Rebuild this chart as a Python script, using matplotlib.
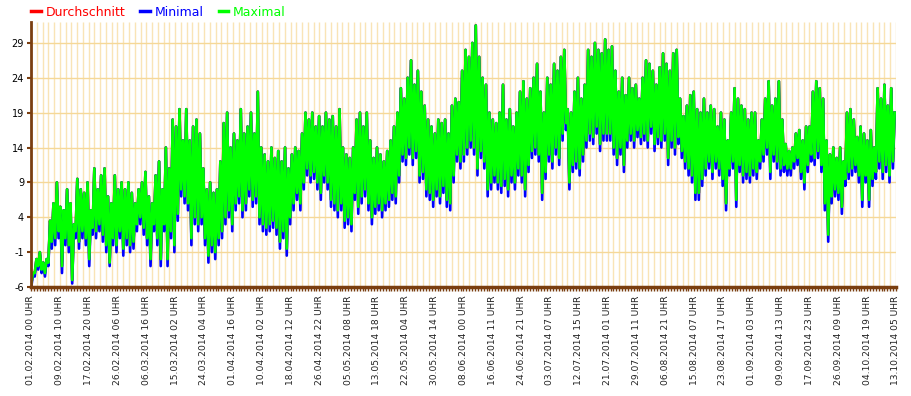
import numpy as np
import matplotlib.pyplot as plt

tick_labels = [
    "01.02.2014 00 UHR", "09.02.2014 10 UHR", "17.02.2014 20 UHR", "26.02.2014 06 UHR",
    "06.03.2014 16 UHR", "15.03.2014 02 UHR", "24.03.2014 04 UHR", "01.04.2014 16 UHR",
    "10.04.2014 02 UHR", "18.04.2014 12 UHR", "26.04.2014 22 UHR", "05.05.2014 08 UHR",
    "13.05.2014 18 UHR", "22.05.2014 04 UHR", "30.05.2014 14 UHR", "08.06.2014 00 UHR",
    "16.06.2014 11 UHR", "24.06.2014 21 UHR", "03.07.2014 07 UHR", "12.07.2014 15 UHR",
    "21.07.2014 01 UHR", "29.07.2014 11 UHR", "06.08.2014 21 UHR", "15.08.2014 07 UHR",
    "23.08.2014 17 UHR", "01.09.2014 03 UHR", "09.09.2014 13 UHR", "17.09.2014 23 UHR",
    "26.09.2014 09 UHR", "04.10.2014 19 UHR", "13.10.2014 05 UHR",
]
y_ticks = [-6, -1, 4, 9, 14, 19, 24, 29]

# daily highs of "Maximal"
max_hi = [
    -4, -2, -1, -2.5, -2, 3.5, 6, 9, 5.5, 5,
    8, 6, 3, 9.5, 8, 7.5, 9, 5, 11, 8,
    10, 11, 7, 6, 10, 8, 9, 8, 9, 7.5,
    6, 8, 9, 10.5, 7, 6, 10, 12, 8, 14,
    11, 18, 17, 19.5, 15, 19.5, 15, 17, 18, 16,
    11, 8, 9, 7.5, 8, 12, 17.5, 19, 14, 16,
    15, 19.5, 16, 17, 19, 16, 22, 14, 13, 12,
    14, 12.5, 13.5, 12, 14, 11, 13, 14, 13.5, 16,
    19, 18, 19, 17, 18.5, 17, 19, 18, 18.5, 17,
    19.5, 14, 13, 12.5, 14, 18, 19, 17, 19, 15,
    12.5, 14, 13, 12, 13.5, 15, 17, 19, 22.5, 21,
    24, 26.5, 23, 25, 22, 20, 18, 17, 16, 18,
    17.5, 18, 16, 20, 21, 20.5, 25, 28, 27, 29,
    31.5, 27, 24, 23, 19, 18, 17.5, 19, 23, 18,
    19.5, 17, 19, 22, 23.5, 21, 22.5, 24, 26, 22,
    19, 24, 23, 26, 25, 27, 28, 19.5, 19, 22,
    24, 21, 23, 28, 27, 29, 28, 27.5, 29.5, 28,
    28.5, 25, 22, 24, 21.5, 24, 22.5, 23, 21, 24,
    26.5, 26, 25, 23, 25.5, 27.5, 26, 25, 27.5, 28,
    21, 18.5, 20, 21.5, 22, 19.5, 19, 21, 19, 20,
    19.5, 17, 19, 18, 15, 19, 22.5, 21, 20, 19.5,
    18, 19, 19, 15, 18, 21, 23.5, 20, 21, 23.5,
    18, 14.5, 13.5, 14, 16, 16.5, 15, 17, 17, 22,
    23.5, 22.5, 21, 15, 13, 14, 12.5, 14, 12, 19,
    19.5, 18, 15.5, 17, 16, 15, 16.5, 14, 22.5, 21,
    23, 20, 22.5, 19,
]

# daily lows of "Maximal"
max_lo = [
    -5.5, -4, -3, -3.5, -4, -2.5, 0.5, 1, 2, -3,
    1, 0, -5, 2, 0.5, 2, 1, -2, 2.5, 2,
    3, 1.5, 0, -2.5, 1, 0, 2, -0.5, 1, 0,
    0.5, 3, 4, 2.5, 1, -2, 3, 1, -2, 3,
    -2, 2, 0, 4.5, 8, 7, 6, 1, 4, 3,
    4, 1, -1.5, 0, -1, 1, 2, 4, 5, 3,
    6, 7, 5, 6, 8, 6.5, 7, 4, 3, 2.5,
    3, 3.5, 2.5, 0.5, 2, -0.5, 4, 6, 7.5, 6,
    9, 11, 10, 10.5, 9, 7.5, 10, 9, 6.5, 6,
    5, 6, 3.5, 4, 3, 7.5, 5.5, 7, 8, 6,
    4, 5.5, 6, 5, 6, 6.5, 7.5, 7, 10, 13,
    12.5, 14, 12.5, 13.5, 10, 10.5, 8, 7.5, 6.5, 8,
    7, 8.5, 6.5, 6, 10, 13, 12, 13, 14, 15,
    14, 11, 13.5, 12, 8, 9, 10, 9, 8.5, 9.5,
    8, 10, 9, 11, 10, 8, 11.5, 13.5, 14, 13,
    7.5, 10.5, 13, 12, 14, 12.5, 16, 17.5, 9, 11.5,
    12, 11, 13, 15, 16, 15.5, 17, 14.5, 16, 16,
    16, 14, 12.5, 14, 11.5, 15, 16, 15, 16.5, 15.5,
    16, 15, 17, 14.5, 15.5, 15, 16, 12.5, 15, 14,
    15.5, 13.5, 12, 11, 10, 7.5, 7.5, 9.5, 11, 12,
    10.5, 12, 11, 9.5, 6, 11, 12, 6.5, 11.5, 10,
    10.5, 10, 11, 10.5, 12, 13, 14, 10.5, 13, 12,
    11, 11.5, 11, 11, 12, 12.5, 10.5, 9, 11.5, 13,
    12.5, 13.5, 11.5, 6, 1.5, 7, 8, 7.5, 5.5, 9.5,
    10.5, 11, 11.5, 10, 6.5, 10, 6.5, 9.5, 10.5, 12,
    10.5, 11.5, 10, 12,
]

# daily lows of "Minimal"
min_lo = [
    -6, -4.5, -3.5, -4, -4.5, -3, -0.5, 0, 1, -4,
    0, -1, -5.5, 1, -0.5, 1, 0, -3, 1.5, 1,
    2, 0.5, -1, -3, 0, -1, 1, -1.5, 0, -1,
    -0.5, 2, 3, 1.5, 0, -3, 2, 0, -3, 2,
    -3, 1, -1, 3.5, 7, 6, 5, 0, 3, 2,
    3, 0, -2.5, -1, -2, 0, 1, 3, 4, 2,
    5, 6, 4, 5, 7, 5.5, 6, 3, 2, 1.5,
    2, 2.5, 1.5, -0.5, 1, -1.5, 3, 5, 6.5, 5,
    8, 10, 9, 9.5, 8, 6.5, 9, 8, 5.5, 5,
    4, 5, 2.5, 3, 2, 6.5, 4.5, 6, 7, 5,
    3, 4.5, 5, 4, 5, 5.5, 6.5, 6, 9, 12,
    11.5, 13, 11.5, 12.5, 9, 9.5, 7, 6.5, 5.5, 7,
    6, 7.5, 5.5, 5, 9, 12, 11, 12, 13, 14,
    13, 10, 12.5, 11, 7, 8, 9, 8, 7.5, 8.5,
    7, 9, 8, 10, 9, 7, 10.5, 12.5, 13, 12,
    6.5, 9.5, 12, 11, 13, 11.5, 15, 16.5, 8, 10.5,
    11, 10, 12, 14, 15, 14.5, 16, 13.5, 15, 15,
    15, 13, 11.5, 13, 10.5, 14, 15, 14, 15.5, 14.5,
    15, 14, 16, 13.5, 14.5, 14, 15, 11.5, 14, 13,
    14.5, 12.5, 11, 10, 9, 6.5, 6.5, 8.5, 10, 11,
    9.5, 11, 10, 8.5, 5, 10, 11, 5.5, 10.5, 9,
    9.5, 9, 10, 9.5, 11, 12, 13, 9.5, 12, 11,
    10, 10.5, 10, 10, 11, 11.5, 9.5, 8, 10.5, 12,
    11.5, 12.5, 10.5, 5, 0.5, 6, 7, 6.5, 4.5, 8.5,
    9.5, 10, 10.5, 9, 5.5, 9, 5.5, 8.5, 9.5, 11,
    9.5, 10.5, 9, 11,
]


def zigzag(lows, highs):
    n = len(lows)
    x = np.empty(2 * n)
    y = np.empty(2 * n)
    x[0::2] = np.arange(n) + 0.1
    x[1::2] = np.arange(n) + 0.6
    y[0::2] = lows
    y[1::2] = highs
    return x, y


brown = "#7a3e10"
n_days = len(max_hi)

fig = plt.figure(figsize=(9.12, 3.96), dpi=100)
ax = fig.add_axes([31 / 912, 1 - 287 / 396, 865 / 912, 265 / 396])

x, y = zigzag(max_lo, max_hi)
ax.plot(x, y, color="#ff0000", lw=1.9, label="Durchschnitt")
x, y = zigzag(min_lo, max_hi)
ax.plot(x, y, color="#0000ff", lw=1.9, label="Minimal")
x, y = zigzag(max_lo, max_hi)
ax.plot(x, y, color="#00ff00", lw=1.9, label="Maximal")

ax.set_xlim(0, n_days)
ax.set_ylim(-6, 32)

n_int = len(tick_labels) - 1
major = np.linspace(0, n_days, len(tick_labels))
comb = np.linspace(0, n_days, n_int * 10 + 1)
grid_x = np.linspace(0, n_days, n_int * 5 + 1)
ax.set_xticks(major)
ax.set_xticklabels(tick_labels, rotation=90, fontsize=6.6, color="#222222")
ax.set_xticks(comb, minor=True)
ax.set_yticks(y_ticks)
ax.set_yticklabels([str(v) for v in y_ticks], fontsize=7, color="black")

ax.vlines(grid_x, 0, 1, transform=ax.get_xaxis_transform(), color="#f9e4b6", lw=1, zorder=0)
ax.grid(which="major", axis="y", color="#f5d898", lw=1, zorder=0)
ax.set_axisbelow(True)

for side in ["top", "right"]:
    ax.spines[side].set_visible(False)
ax.spines["left"].set_color(brown)
ax.spines["left"].set_linewidth(2)
ax.spines["bottom"].set_color(brown)
ax.spines["bottom"].set_linewidth(2.5)
ax.tick_params(axis="x", which="both", color=brown, length=3, width=1, pad=3)
ax.tick_params(axis="y", color=brown, length=3, width=1.5, pad=2)

fig.legend(loc="upper left", bbox_to_anchor=(0.022, 1.014), ncol=3, frameon=False,
           fontsize=9, handlelength=0.75, handletextpad=0.4, columnspacing=1.2,
           labelcolor="linecolor")
for h in fig.legends[0].legend_handles:
    h.set_linewidth(2.5)

fig.savefig("out.png", dpi=100)
